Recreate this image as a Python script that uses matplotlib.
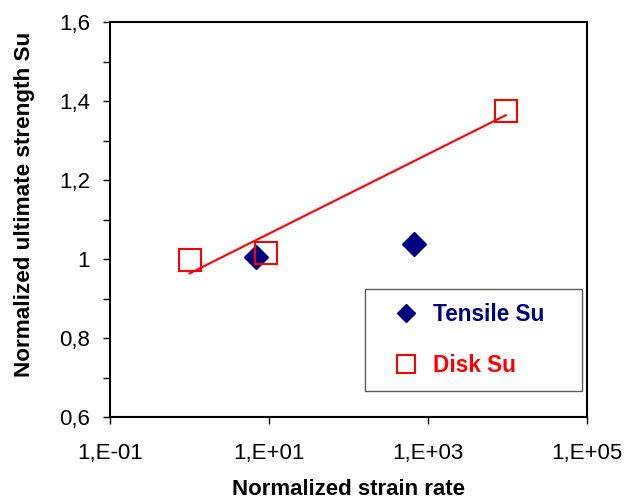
import numpy as np
import matplotlib
matplotlib.use("Agg")
import matplotlib.pyplot as plt
from matplotlib.ticker import FuncFormatter, FixedLocator

plt.rcParams['font.family'] = ['Liberation Sans', 'DejaVu Sans']

# Normalized strain rate vs normalized ultimate strength
tensile_rate = [6.9, 670.0]
tensile_su = [1.005, 1.038]

disk_rate = [1.0, 9.2, 9500.0]
disk_su = [0.998, 1.015, 1.375]

x_ticks = [1e-1, 1e1, 1e3, 1e5]
x_tick_labels = ["1,E-01", "1,E+01", "1,E+03", "1,E+05"]

fig = plt.figure(figsize=(6.24, 4.99), dpi=100)
ax = fig.add_axes([0.1763, 0.1643, 0.7644, 0.7916])

navy = "#000080"
red = "#FF0000"

# logarithmic trend line through the disk results
lx = np.log10(disk_rate)
b, a = np.polyfit(lx, disk_su, 1)
tx = np.array([min(disk_rate), max(disk_rate)])
ax.plot(tx, a + b * np.log10(tx), color=red, lw=1.5, zorder=2)

ax.plot(tensile_rate, tensile_su, linestyle="none", marker="D", ms=12.3,
        color=navy, mec=navy, label="Tensile Su", zorder=3)
ax.plot(disk_rate, disk_su, linestyle="none", marker="s", ms=16.5,
        mfc="none", mec=red, mew=1.5, label="Disk Su", zorder=4)

ax.set_xscale("log")
ax.set_xlim(1e-1, 1e5)
ax.set_ylim(0.6, 1.6)
ax.xaxis.set_major_locator(FixedLocator(x_ticks))
ax.set_xticklabels(x_tick_labels)
ax.xaxis.set_minor_locator(FixedLocator([]))
ax.set_yticks(np.arange(0.6, 1.601, 0.1))
ax.yaxis.set_major_formatter(FuncFormatter(
    lambda v, p: ("%g" % round(v, 1)).replace(".", ",") if round(v * 10) % 2 == 0 else ""))

ax.tick_params(axis="both", which="major", direction="out", length=5, width=1,
               labelsize=16, top=False, right=False)
ax.tick_params(axis="x", pad=13.5)
ax.tick_params(axis="y", pad=9.5)
for s in ax.spines.values():
    s.set_linewidth(1.5)
    s.set_color("black")

ax.set_xlabel("Normalized strain rate", fontsize=16, fontweight="bold")
ax.xaxis.set_label_coords(0.5, -0.158)
ax.set_ylabel("Normalized ultimate strength Su", fontsize=16.2, fontweight="bold")
ax.yaxis.set_label_coords(-0.157, 0.538)

leg = ax.legend(loc="lower left", bbox_to_anchor=(0.535, 0.066, 0.455, 0.263),
                mode="expand", fontsize=16.3, markerscale=0.78, frameon=True,
                fancybox=False, borderpad=0.6, labelspacing=1.27,
                handlelength=2.4, handletextpad=0.0, borderaxespad=0)
leg.get_frame().set_edgecolor("#333333")
leg.get_frame().set_linewidth(1.0)
for txt, col in zip(leg.get_texts(), [navy, red]):
    txt.set_color(col)
    txt.set_fontweight("bold")

fig.savefig("out.png", dpi=100)
